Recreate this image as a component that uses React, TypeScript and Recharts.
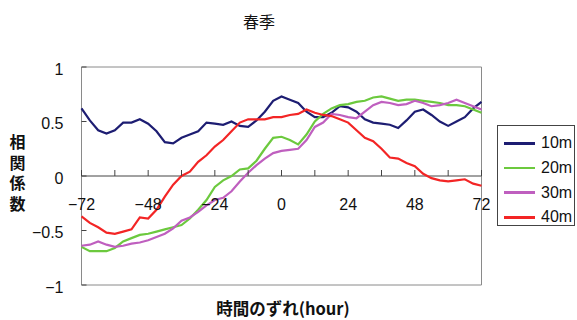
import { LineChart, Line, XAxis, YAxis, ReferenceArea, ReferenceLine } from "recharts";

// lag in hours, every 3 h
const HOURS = [
  -72, -69, -66, -63, -60, -57, -54, -51, -48, -45, -42, -39, -36,
  -33, -30, -27, -24, -21, -18, -15, -12, -9, -6, -3, 0,
  3, 6, 9, 12, 15, 18, 21, 24, 27, 30, 33, 36,
  39, 42, 45, 48, 51, 54, 57, 60, 63, 66, 69, 72,
];

const R10 = [
  0.62, 0.51, 0.42, 0.39, 0.42, 0.49, 0.49, 0.52, 0.48, 0.41, 0.31, 0.30, 0.35,
  0.38, 0.41, 0.49, 0.48, 0.47, 0.50, 0.46, 0.45, 0.51, 0.59, 0.69, 0.73,
  0.70, 0.67, 0.59, 0.54, 0.54, 0.58, 0.64, 0.63, 0.59, 0.52, 0.49, 0.48,
  0.47, 0.44, 0.51, 0.59, 0.61, 0.56, 0.50, 0.46, 0.50, 0.54, 0.62, 0.68,
];

const R20 = [
  -0.65, -0.69, -0.69, -0.69, -0.66, -0.60, -0.57, -0.54, -0.53, -0.51, -0.49, -0.47, -0.45,
  -0.39, -0.31, -0.22, -0.10, -0.04, 0.0, 0.06, 0.07, 0.14, 0.25, 0.35, 0.36,
  0.33, 0.29, 0.38, 0.50, 0.57, 0.62, 0.65, 0.66, 0.68, 0.69, 0.72, 0.73,
  0.71, 0.69, 0.70, 0.70, 0.69, 0.68, 0.67, 0.65, 0.65, 0.64, 0.61, 0.58,
];

const R30 = [
  -0.64, -0.63, -0.60, -0.63, -0.65, -0.64, -0.62, -0.61, -0.59, -0.56, -0.53, -0.48, -0.41,
  -0.38, -0.33, -0.27, -0.22, -0.20, -0.14, -0.05, 0.03, 0.10, 0.16, 0.21, 0.23,
  0.24, 0.25, 0.33, 0.45, 0.49, 0.57, 0.56, 0.54, 0.53, 0.59, 0.65, 0.68,
  0.67, 0.65, 0.66, 0.69, 0.67, 0.64, 0.65, 0.67, 0.70, 0.67, 0.64, 0.61,
];

const R40 = [
  -0.37, -0.43, -0.47, -0.52, -0.53, -0.51, -0.49, -0.38, -0.39, -0.31, -0.19, -0.08, 0.0,
  0.04, 0.13, 0.19, 0.27, 0.33, 0.41, 0.49, 0.52, 0.52, 0.52, 0.54, 0.54,
  0.56, 0.57, 0.61, 0.58, 0.56, 0.55, 0.52, 0.49, 0.42, 0.35, 0.32, 0.25,
  0.17, 0.16, 0.12, 0.09, 0.02, -0.02, -0.04, -0.05, -0.04, -0.03, -0.07, -0.09,
];

const X_TICKS = [-72, -60, -48, -36, -24, -12, 0, 12, 24, 36, 48, 60, 72];
const Y_TICKS = [-1, -0.5, 0, 0.5, 1];
const Y_TICK_LABELS = ["−1", "−0.5", "0", "0.5", "1"];

const SERIES = [
  { key: "m10", name: "10m", color: "#1d1d72", values: R10 },
  { key: "m20", name: "20m", color: "#6cc93e", values: R20 },
  { key: "m30", name: "30m", color: "#bf5fbf", values: R30 },
  { key: "m40", name: "40m", color: "#f32525", values: R40 },
];

const rows = HOURS.map((h, i) => {
  const row: Record<string, number> = { h };
  SERIES.forEach((s) => (row[s.key] = s.values[i]));
  return row;
});

const W = 577;
const H = 320;
const PLOT_LEFT = 81.5;
const PLOT_RIGHT = 481.5;
const PLOT_TOP = 67;
const PLOT_BOTTOM = 285;
// pixel row of correlation 0 (domain is -1..1)
const Y0 = PLOT_TOP + (PLOT_BOTTOM - PLOT_TOP) / 2;

const NUM_FONT = "'Liberation Sans', Arial, sans-serif";
const JP_FONT = "'Noto Sans CJK JP', sans-serif";

function XTick(props: any) {
  const { x, payload } = props;
  const v = payload.value as number;
  return (
    <g>
      <line x1={x} y1={Y0} x2={x} y2={Y0 - 6} stroke="#444" strokeWidth={1} />
      {v % 24 === 0 && (
        <text x={x} y={Y0 + 34} textAnchor="middle" fontSize={16} fontFamily={NUM_FONT} fill="#111">
          {v < 0 ? `−${-v}` : `${v}`}
        </text>
      )}
    </g>
  );
}

function YTick(props: any) {
  const { y, payload } = props;
  const idx = Y_TICKS.indexOf(payload.value);
  return (
    <g>
      <line x1={PLOT_LEFT} y1={y} x2={PLOT_LEFT + 5} y2={y} stroke="#444" strokeWidth={1} />
      <text x={PLOT_LEFT - 18} y={y + 7.5} textAnchor="end" fontSize={16} fontFamily={NUM_FONT} fill="#111">
        {Y_TICK_LABELS[idx]}
      </text>
    </g>
  );
}

export default function App() {
  return (
    <div style={{ position: "absolute", left: 0, top: 0, width: W, height: H, background: "#fff" }}>
      <LineChart
        width={W}
        height={H}
        data={rows}
        margin={{ top: PLOT_TOP, right: W - PLOT_RIGHT, bottom: 5, left: 0 }}
      >
        <XAxis
          type="number"
          dataKey="h"
          domain={[-72, 72]}
          ticks={X_TICKS}
          height={H - PLOT_BOTTOM - 5}
          axisLine={false}
          tickLine={false}
          tick={XTick}
          interval={0}
        />
        <YAxis
          type="number"
          domain={[-1, 1]}
          ticks={Y_TICKS}
          width={PLOT_LEFT}
          axisLine={false}
          tickLine={false}
          tick={YTick}
          interval={0}
        />
        <ReferenceArea x1={-72} x2={72} y1={-1} y2={1} fill="none" stroke="#8a8a8a" strokeWidth={1} />
        <ReferenceLine y={0} stroke="#444" strokeWidth={1} />
        {SERIES.map((s) => (
          <Line
            key={s.key}
            dataKey={s.key}
            name={s.name}
            type="linear"
            stroke={s.color}
            strokeWidth={2.2}
            dot={false}
            isAnimationActive={false}
          />
        ))}
      </LineChart>

      {/* title and axis titles */}
      <svg width={W} height={H} style={{ position: "absolute", left: 0, top: 0, pointerEvents: "none" }}>
        <text x={259} y={28} textAnchor="middle" fontSize={16} fontFamily={JP_FONT} fill="#111">
          春季
        </text>
        <text x={283} y={315} textAnchor="middle" fontSize={16.5} fontWeight={700} fontFamily={JP_FONT} fill="#111">
          時間のずれ(hour)
        </text>
        <text
          x={17.5}
          y={134}
          fontSize={16}
          fontWeight={700}
          fontFamily={JP_FONT}
          fill="#111"
          style={{ writingMode: "vertical-rl", letterSpacing: 4.7 }}
        >
          相関係数
        </text>
      </svg>

      {/* legend */}
      <div
        style={{
          position: "absolute",
          left: 497,
          top: 125,
          width: 78,
          height: 101,
          border: "1px solid #444",
          background: "#fff",
          boxSizing: "border-box",
          paddingTop: 5,
        }}
      >
        {SERIES.map((s) => (
          <div key={s.key} style={{ display: "flex", alignItems: "center", height: 24.7 }}>
            <div style={{ width: 31, height: 2.5, background: s.color, marginLeft: 6, marginRight: 6 }} />
            <span style={{ fontFamily: NUM_FONT, fontSize: 16, color: "#111" }}>{s.name}</span>
          </div>
        ))}
      </div>
    </div>
  );
}
